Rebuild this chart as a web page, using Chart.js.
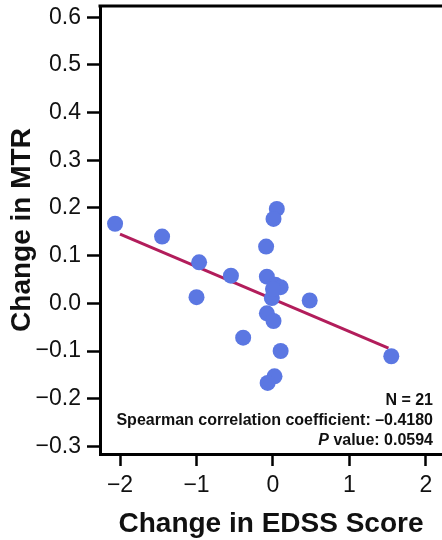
<!DOCTYPE html>
<html>
<head>
<meta charset="utf-8">
<script src="https://cdn.jsdelivr.net/npm/chart.js"></script>
<style>
  html, body { margin: 0; padding: 0; background: #fff; }
  #wrap { width: 442px; height: 540px; }
</style>
</head>
<body>
<div id="wrap"><canvas id="myChart" width="442" height="540"></canvas></div>
<script>
// values
const edssChange = [-2.065, -1.45, -0.966, -1.0, -0.55, -0.39, -0.09, 0.05, 0.007, -0.08, 0.03,
  0.10, -0.015, 0.0, 0.48, -0.08, 0.007, 0.10, 0.02, -0.07, 1.547];
const mtrChange = [0.167, 0.140, 0.086, 0.013, 0.058, -0.072, 0.119, 0.198, 0.177, 0.056, 0.039,
  0.034, 0.011, 0.030, 0.006, -0.021, -0.037, -0.10, -0.153, -0.167, -0.111];

// fitted line end points
const fitX = [-2.0, 1.51];
const fitY = [0.145, -0.094];

const xTicks = [-2, -1, 0, 1, 2];
const yTicks = [-0.3, -0.2, -0.1, 0.0, 0.1, 0.2, 0.3, 0.4, 0.5, 0.6];

const statLines = ["N = 21", "Spearman correlation coefficient: \u20130.4180", "value: 0.0594"];

const fontFamily = "'Liberation Sans', Arial, Helvetica, sans-serif";

function minus(v, digits) {
  const s = Math.abs(v).toFixed(digits);
  return v < 0 ? "\u2212" + s : s;
}

const points = edssChange.map((x, i) => ({ x: x, y: mtrChange[i] }));
const fit = fitX.map((x, i) => ({ x: x, y: fitY[i] }));

const boxPlugin = {
  id: "box",
  afterDraw(chart) {
    const ctx = chart.ctx;
    const a = chart.chartArea;
    ctx.save();
    // top border
    ctx.strokeStyle = "#000";
    ctx.lineWidth = 3;
    ctx.beginPath();
    ctx.moveTo(a.left - 1.5, a.top);
    ctx.lineTo(a.right, a.top);
    ctx.stroke();

    // stats text
    ctx.fillStyle = "#111";
    ctx.textAlign = "right";
    ctx.textBaseline = "middle";
    const rx = a.right - 9;
    ctx.font = "bold 16px " + fontFamily;
    ctx.fillText(statLines[0], rx, 401);
    ctx.fillText(statLines[1], rx, 421);
    ctx.fillText(statLines[2], rx, 441);
    const w = ctx.measureText(" " + statLines[2]).width;
    ctx.font = "italic bold 16px " + fontFamily;
    ctx.fillText("P", rx - w, 441);
    ctx.restore();
  }
};

new Chart(document.getElementById("myChart"), {
  type: "scatter",
  data: {
    datasets: [
      {
        data: points,
        backgroundColor: "#5b77e2",
        borderWidth: 0,
        pointRadius: 8,
        pointHoverRadius: 8
      },
      {
        type: "line",
        data: fit,
        borderColor: "#b21d5b",
        borderWidth: 3,
        pointRadius: 0,
        fill: false
      }
    ]
  },
  options: {
    responsive: false,
    animation: false,
    events: [],
    layout: { autoPadding: false, padding: { top: 6, right: 0, left: 0, bottom: 0 } },
    plugins: {
      legend: { display: false },
      tooltip: { enabled: false }
    },
    scales: {
      x: {
        type: "linear",
        min: -2.262,
        max: 2.21,
        afterBuildTicks: (s) => { s.ticks = xTicks.map(v => ({ value: v })); },
        afterFit: (s) => { s.height = 86; s.paddingLeft = 0; s.paddingRight = 0; },
        border: { display: true, color: "#000", width: 3 },
        grid: { drawOnChartArea: false, color: "#000", tickLength: 12, tickWidth: 2.5 },
        ticks: {
          color: "#111",
          padding: 6,
          font: { family: fontFamily, size: 23 },
          callback: (v) => minus(v, 0)
        },
        title: {
          display: true,
          text: "Change in EDSS Score",
          color: "#111",
          font: { family: fontFamily, size: 28, weight: "bold" },
          padding: { top: 0, bottom: -1 }
        }
      },
      y: {
        type: "linear",
        min: -0.316,
        max: 0.6237,
        afterBuildTicks: (s) => { s.ticks = yTicks.map(v => ({ value: v })); },
        afterFit: (s) => { s.width = 100; s.paddingTop = 0; s.paddingBottom = 0; },
        border: { display: true, color: "#000", width: 3 },
        grid: { drawOnChartArea: false, color: "#000", tickLength: 13, tickWidth: 2.5 },
        ticks: {
          color: "#111",
          padding: 6,
          font: { family: fontFamily, size: 23 },
          callback: (v) => minus(v, 1)
        },
        title: {
          display: true,
          text: "Change in MTR",
          color: "#111",
          font: { family: fontFamily, size: 28, weight: "bold" },
          padding: { top: 5, bottom: 0 }
        }
      }
    }
  },
  plugins: [boxPlugin]
});
</script>
</body>
</html>
